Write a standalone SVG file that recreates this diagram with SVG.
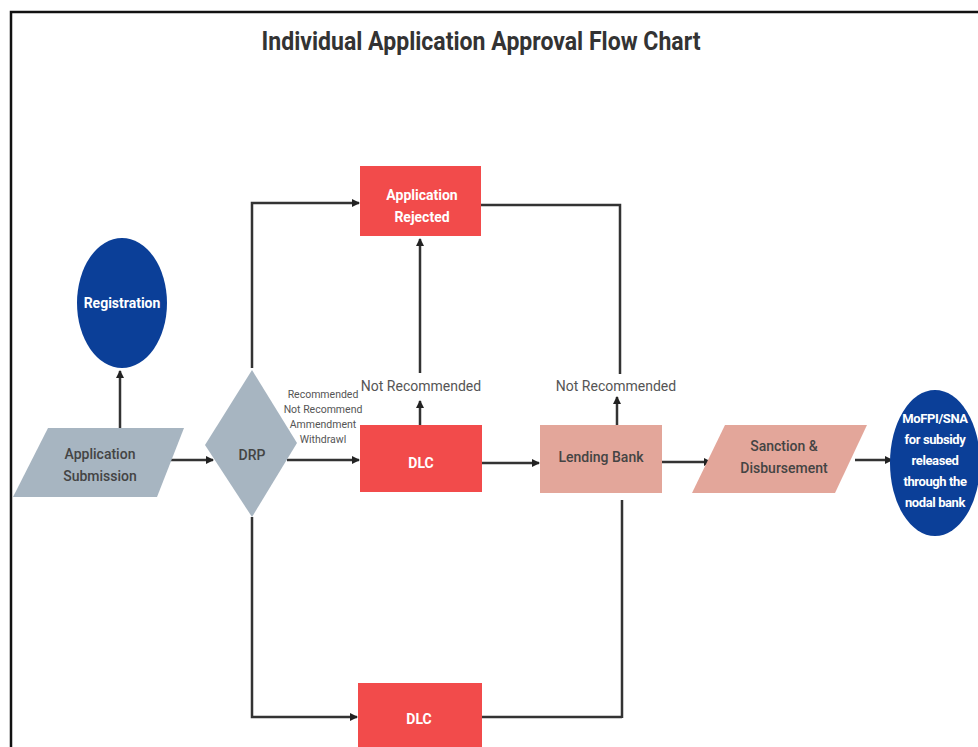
<svg xmlns="http://www.w3.org/2000/svg" width="978" height="747" viewBox="0 0 978 747">
<style>
.t{font-family:Roboto,"Liberation Sans",sans-serif;text-anchor:middle}
.w{fill:#ffffff;font-weight:bold;font-size:14px}
.d{fill:#444444;font-size:14px;font-weight:500}
.c{fill:none;stroke:#333333;stroke-width:2.5}
.a{marker-end:url(#ah)}
.lbl{fill:#555555;font-size:10.5px}
.nr{fill:#555555;font-size:14px}
.m{font-size:13px;letter-spacing:-0.4px}
</style>
<defs>
<marker id="ah" markerWidth="8" markerHeight="8" refX="7" refY="4" orient="auto" markerUnits="userSpaceOnUse">
<path d="M0,0 L8,4 L0,8 Z" fill="#222222"/>
</marker>
</defs>
<rect width="978" height="747" fill="#ffffff"/>
<path d="M11,747 L11,12 L978,12" fill="none" stroke="#111111" stroke-width="2.5"/>
<text class="t" x="481" y="50" font-size="25" font-weight="bold" fill="#333333" textLength="439" lengthAdjust="spacingAndGlyphs">Individual Application Approval Flow Chart</text>

<g id="connectors">
<path class="c a" d="M120,428 L120,371"/>
<path class="c a" d="M165,460 L213,460"/>
<path class="c a" d="M252,368 L252,203 L359,203"/>
<path class="c a" d="M252,517 L252,717 L357,717"/>
<path class="c a" d="M287,460 L359,460"/>
<path class="c a" d="M420,425 L420,401"/>
<path class="c a" d="M420,373 L420,239"/>
<path class="c" d="M481,205 L620,205 L620,374"/>
<path class="c a" d="M617,425 L617,397"/>
<path class="c a" d="M482,463 L539,463"/>
<path class="c a" d="M662,462 L711,462"/>
<path class="c a" d="M855,460 L892,460"/>
<path class="c" d="M622,500 L622,718 M482,717 L622,717"/>
</g>

<g id="registration">
<ellipse cx="122" cy="303" rx="45" ry="65" fill="#0b3f98"/>
<text class="t w" x="122" y="308">Registration</text>
</g>

<g id="application-submission">
<polygon points="48,428 184,428 157,497 13,497" fill="#a7b5c1"/>
<text class="t d" x="100" y="459">Application</text>
<text class="t d" x="100" y="481">Submission</text>
</g>

<g id="drp">
<polygon points="252,370 297,443 252,517 205,445" fill="#a7b5c1"/>
<text class="t d" x="252" y="460">DRP</text>
</g>

<g id="drp-labels">
<text class="t lbl" x="323" y="398">Recommended</text>
<text class="t lbl" x="323" y="413">Not Recommend</text>
<text class="t lbl" x="323" y="428">Ammendment</text>
<text class="t lbl" x="323" y="443">Withdrawl</text>
</g>

<g id="application-rejected">
<rect x="360" y="166" width="121" height="70" fill="#f24b4b"/>
<text class="t w" x="422" y="200">Application</text>
<text class="t w" x="422" y="222">Rejected</text>
</g>

<g id="dlc">
<rect x="360" y="425" width="122" height="67" fill="#f24b4b"/>
<text class="t w" x="421" y="468">DLC</text>
</g>

<g id="not-recommended-1">
<text class="t nr" x="421" y="391">Not Recommended</text>
</g>

<g id="not-recommended-2">
<text class="t nr" x="616" y="391">Not Recommended</text>
</g>

<g id="lending-bank">
<rect x="540" y="425" width="122" height="68" fill="#e3a69a"/>
<text class="t d" x="601" y="462">Lending Bank</text>
</g>

<g id="sanction">
<polygon points="725,425 867,425 835,493 692,493" fill="#e3a69a"/>
<text class="t d" x="784" y="451">Sanction &amp;</text>
<text class="t d" x="784" y="473">Disbursement</text>
</g>

<g id="mofpi">
<ellipse cx="935" cy="463" rx="45" ry="73" fill="#0b3f98"/>
<text class="t w m" x="935" y="423">MoFPI/SNA</text>
<text class="t w m" x="935" y="444">for subsidy</text>
<text class="t w m" x="935" y="465">released</text>
<text class="t w m" x="935" y="486">through the</text>
<text class="t w m" x="935" y="507">nodal bank</text>
</g>

<g id="dlc-bottom">
<rect x="358" y="683" width="124" height="70" fill="#f24b4b"/>
<text class="t w" x="419" y="724">DLC</text>
</g>
</svg>
